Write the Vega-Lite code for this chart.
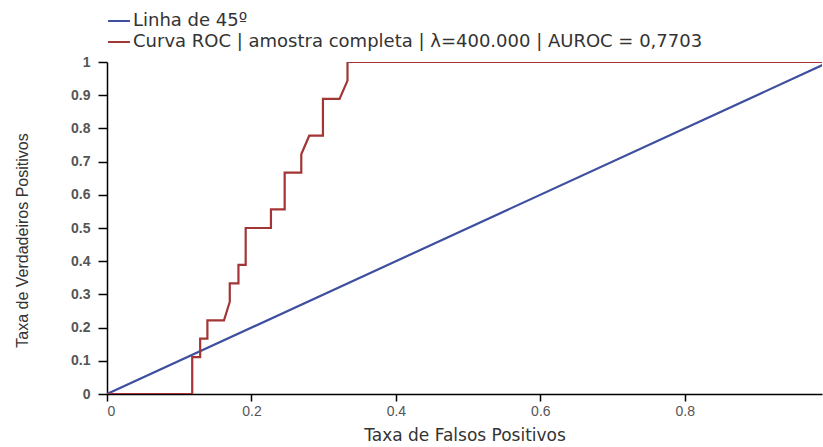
{
  "$schema": "https://vega.github.io/schema/vega-lite/v6.json",
  "autosize": "none",
  "width": 715,
  "height": 332,
  "padding": {"left": 107, "top": 62, "right": 1, "bottom": 53},
  "background": "white",
  "config": {
    "view": {"stroke": null},
    "font": "Liberation Sans"
  },
  "data": {
    "values": [
      {"serie": "Linha de 45º", "ord": 0, "fpr": 0, "tpr": 0},
      {"serie": "Linha de 45º", "ord": 1, "fpr": 1, "tpr": 1},
      {"serie": "Curva ROC | amostra completa | λ=400.000 | AUROC = 0,7703", "ord": 0, "fpr": 0, "tpr": 0},
      {"serie": "Curva ROC | amostra completa | λ=400.000 | AUROC = 0,7703", "ord": 1, "fpr": 0.118, "tpr": 0},
      {"serie": "Curva ROC | amostra completa | λ=400.000 | AUROC = 0,7703", "ord": 2, "fpr": 0.118, "tpr": 0.111},
      {"serie": "Curva ROC | amostra completa | λ=400.000 | AUROC = 0,7703", "ord": 3, "fpr": 0.129, "tpr": 0.111},
      {"serie": "Curva ROC | amostra completa | λ=400.000 | AUROC = 0,7703", "ord": 4, "fpr": 0.129, "tpr": 0.167},
      {"serie": "Curva ROC | amostra completa | λ=400.000 | AUROC = 0,7703", "ord": 5, "fpr": 0.139, "tpr": 0.167},
      {"serie": "Curva ROC | amostra completa | λ=400.000 | AUROC = 0,7703", "ord": 6, "fpr": 0.139, "tpr": 0.222},
      {"serie": "Curva ROC | amostra completa | λ=400.000 | AUROC = 0,7703", "ord": 7, "fpr": 0.162, "tpr": 0.222},
      {"serie": "Curva ROC | amostra completa | λ=400.000 | AUROC = 0,7703", "ord": 8, "fpr": 0.170, "tpr": 0.278},
      {"serie": "Curva ROC | amostra completa | λ=400.000 | AUROC = 0,7703", "ord": 9, "fpr": 0.170, "tpr": 0.333},
      {"serie": "Curva ROC | amostra completa | λ=400.000 | AUROC = 0,7703", "ord": 10, "fpr": 0.182, "tpr": 0.333},
      {"serie": "Curva ROC | amostra completa | λ=400.000 | AUROC = 0,7703", "ord": 11, "fpr": 0.182, "tpr": 0.389},
      {"serie": "Curva ROC | amostra completa | λ=400.000 | AUROC = 0,7703", "ord": 12, "fpr": 0.192, "tpr": 0.389},
      {"serie": "Curva ROC | amostra completa | λ=400.000 | AUROC = 0,7703", "ord": 13, "fpr": 0.192, "tpr": 0.5},
      {"serie": "Curva ROC | amostra completa | λ=400.000 | AUROC = 0,7703", "ord": 14, "fpr": 0.227, "tpr": 0.5},
      {"serie": "Curva ROC | amostra completa | λ=400.000 | AUROC = 0,7703", "ord": 15, "fpr": 0.227, "tpr": 0.556},
      {"serie": "Curva ROC | amostra completa | λ=400.000 | AUROC = 0,7703", "ord": 16, "fpr": 0.246, "tpr": 0.556},
      {"serie": "Curva ROC | amostra completa | λ=400.000 | AUROC = 0,7703", "ord": 17, "fpr": 0.246, "tpr": 0.667},
      {"serie": "Curva ROC | amostra completa | λ=400.000 | AUROC = 0,7703", "ord": 18, "fpr": 0.269, "tpr": 0.667},
      {"serie": "Curva ROC | amostra completa | λ=400.000 | AUROC = 0,7703", "ord": 19, "fpr": 0.269, "tpr": 0.722},
      {"serie": "Curva ROC | amostra completa | λ=400.000 | AUROC = 0,7703", "ord": 20, "fpr": 0.280, "tpr": 0.778},
      {"serie": "Curva ROC | amostra completa | λ=400.000 | AUROC = 0,7703", "ord": 21, "fpr": 0.299, "tpr": 0.778},
      {"serie": "Curva ROC | amostra completa | λ=400.000 | AUROC = 0,7703", "ord": 22, "fpr": 0.299, "tpr": 0.889},
      {"serie": "Curva ROC | amostra completa | λ=400.000 | AUROC = 0,7703", "ord": 23, "fpr": 0.322, "tpr": 0.889},
      {"serie": "Curva ROC | amostra completa | λ=400.000 | AUROC = 0,7703", "ord": 24, "fpr": 0.333, "tpr": 0.944},
      {"serie": "Curva ROC | amostra completa | λ=400.000 | AUROC = 0,7703", "ord": 25, "fpr": 0.333, "tpr": 1},
      {"serie": "Curva ROC | amostra completa | λ=400.000 | AUROC = 0,7703", "ord": 26, "fpr": 1, "tpr": 1}
    ]
  },
  "mark": {"type": "line", "clip": true, "strokeWidth": 2.2},
  "encoding": {
    "x": {
      "field": "fpr", "type": "quantitative",
      "scale": {"domain": [0, 0.99], "nice": false, "zero": false},
      "axis": {
        "title": "Taxa de Falsos Positivos",
        "values": [0, 0.2, 0.4, 0.6, 0.8],
        "format": "~g",
        "grid": false,
        "domainColor": "#000", "domainWidth": 1.5,
        "tickColor": "#000", "tickSize": 7, "tickWidth": 1.5,
        "labelColor": "#555", "labelFontSize": 14, "labelPadding": 3,
        "titleColor": "#333", "titleFont": "DejaVu Sans", "titleFontSize": 17, "titleFontWeight": "normal", "titlePadding": 9
      }
    },
    "y": {
      "field": "tpr", "type": "quantitative",
      "scale": {"domain": [0, 1], "nice": false},
      "axis": {
        "title": "Taxa de Verdadeiros Positivos",
        "values": [0, 0.1, 0.2, 0.3, 0.4, 0.5, 0.6, 0.7, 0.8, 0.9, 1],
        "format": "~g",
        "grid": false,
        "domainColor": "#000", "domainWidth": 1.5,
        "tickColor": "#000", "tickSize": 9, "tickWidth": 1.5,
        "labelColor": "#555", "labelFontSize": 14, "labelPadding": 8,
        "labelFontWeight": "bold",
        "titleColor": "#333", "titleFontSize": 16, "titleFontWeight": "normal",
        "titleX": -85, "titleY": 178, "titleBaseline": "middle", "titleAlign": "center", "titleAngle": -90
      }
    },
    "order": {"field": "ord", "type": "quantitative"},
    "color": {
      "field": "serie", "type": "nominal",
      "scale": {
        "domain": ["Linha de 45º", "Curva ROC | amostra completa | λ=400.000 | AUROC = 0,7703"],
        "range": ["#3f4f9f", "#a33535"]
      },
      "legend": {
        "title": null,
        "orient": "none",
        "legendX": 0,
        "legendY": -53,
        "symbolType": "stroke",
        "symbolSize": 480,
        "symbolStrokeWidth": 2,
        "labelFont": "DejaVu Sans",
        "labelFontSize": 18,
        "labelColor": "#333",
        "labelLimit": 1000,
        "labelOffset": 2,
        "rowPadding": 0
      }
    }
  }
}
